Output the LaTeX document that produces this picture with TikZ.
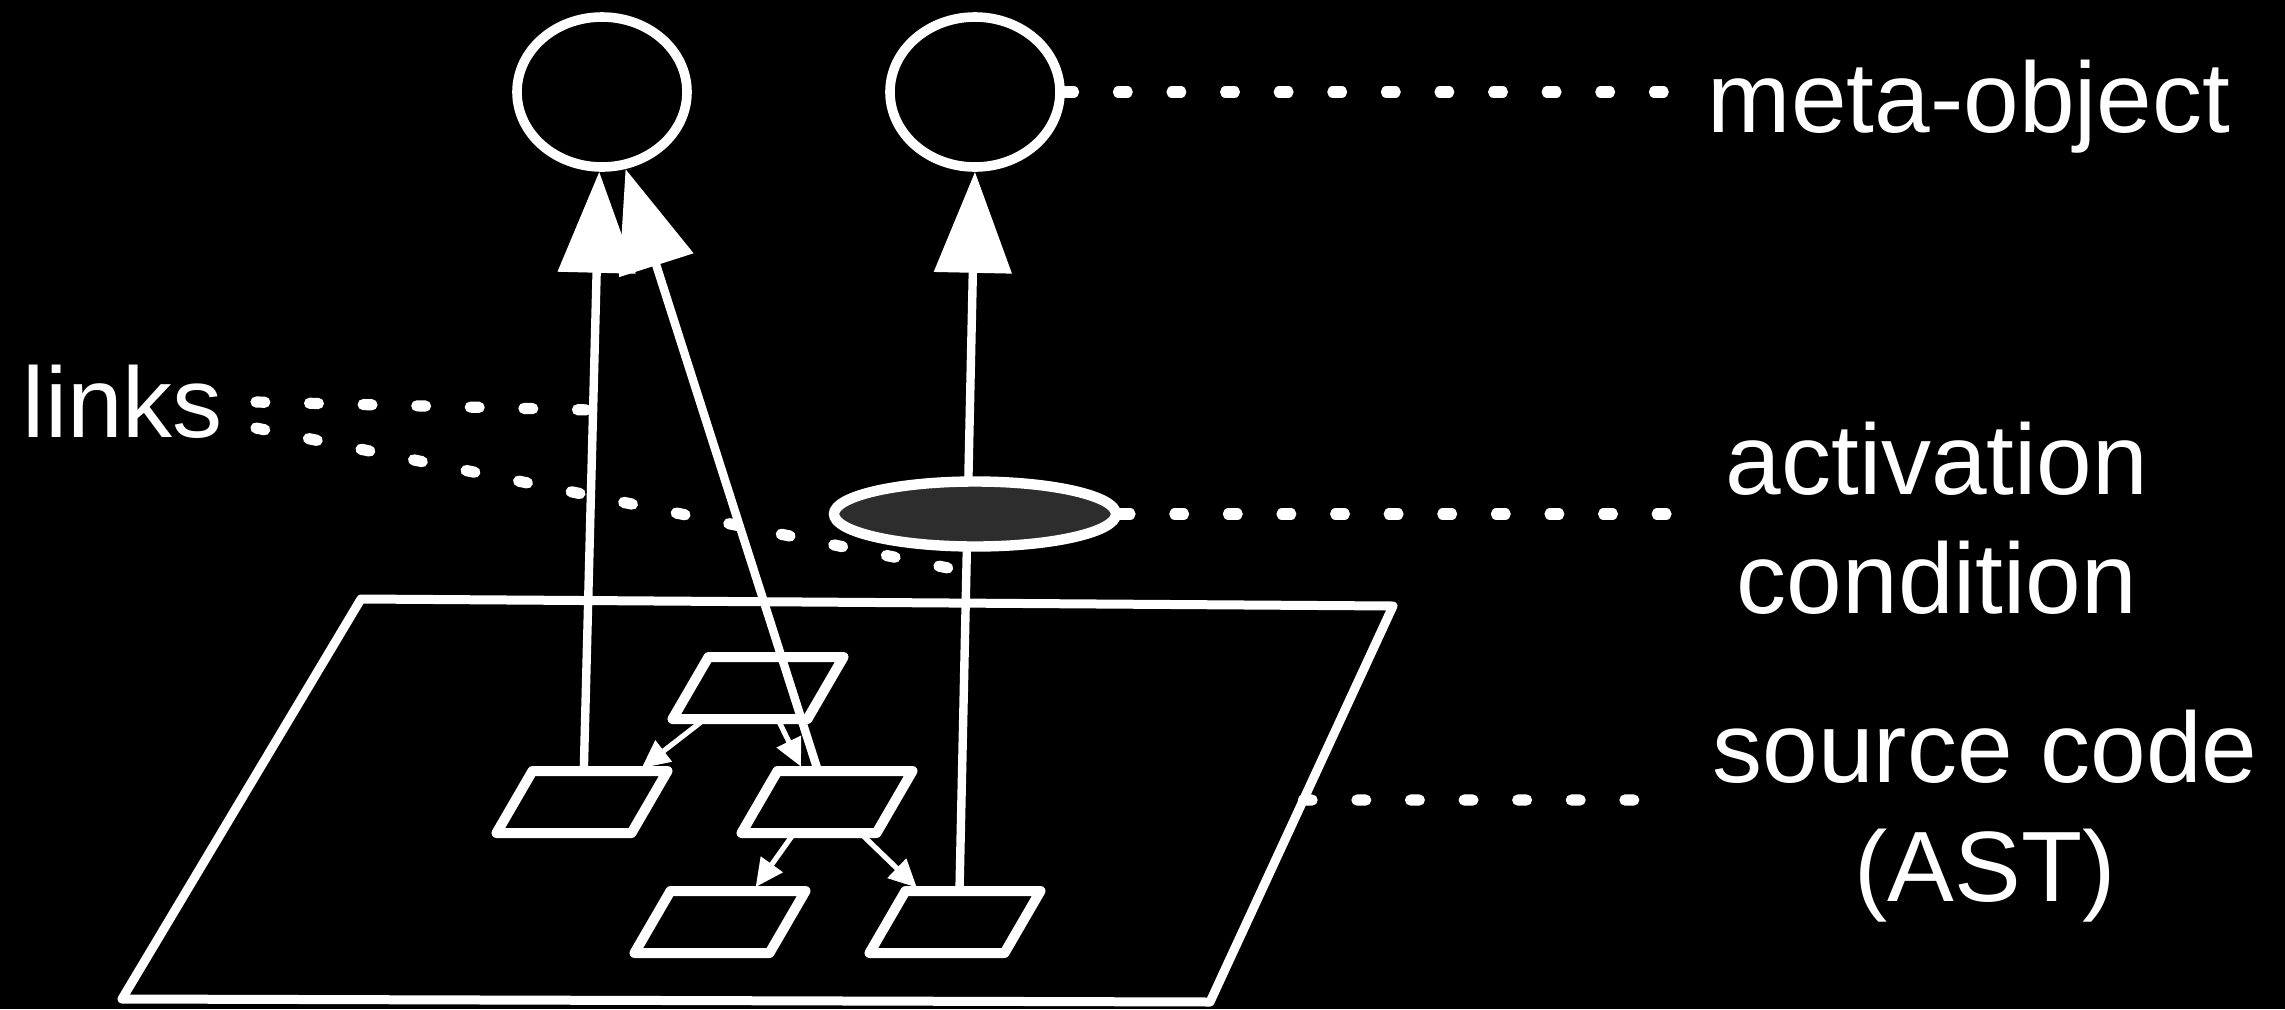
\documentclass[tikz,border=0pt]{standalone}
\usepackage{fontspec}
\setmainfont{Liberation Sans}
\usetikzlibrary{positioning,arrows.meta,shapes.geometric,calc}
\definecolor{condfill}{HTML}{2D2D2D}

\begin{document}
\begin{tikzpicture}[x=0.25pt,y=-0.25pt,
    metaobj/.style={ellipse,draw=white,line width=2.4pt,inner sep=0pt,
                    minimum width=42.5pt,minimum height=37.5pt},
    actcond/.style={ellipse,draw=white,fill=condfill,line width=2.6pt,inner sep=0pt,
                    minimum width=70.5pt,minimum height=16.25pt},
    astline/.style={white,line width=2.5pt,line join=round},
    astbox/.pic={
      \draw[astline] (-85.5,31) -- (-49.5,-31) -- (85.5,-31) -- (49.5,31) -- cycle;
      \coordinate (-bl) at (-85.5,31);
      \coordinate (-br) at (49.5,31);
      \coordinate (-tl) at (-49.5,-31);
      \coordinate (-tr) at (85.5,-31);
    },
    lnk/.style={white,line width=2.1pt,-{Triangle[length=25.25pt,width=19pt]}},
    sublnk/.style={white,line width=1.3pt,shorten >=1.2pt,-{Triangle[length=7pt,width=6.5pt]}},
    dotline/.style={white,line width=2.8pt,line cap=round,dash pattern=on 2.2pt off 11.2pt},
    txt/.style={text=white,inner sep=0pt,font=\fontsize{25}{30}\selectfont}]
  \fill[black] (0,0) rectangle (2285,1009);
  \useasboundingbox (0,0) rectangle (2285,1009);

  % source code plane
  \coordinate (p1) at (122,999);
  \coordinate (p2) at (361,599);
  \coordinate (p3) at (1393,606);
  \coordinate (p4) at (1210,1002);
  \draw[white,line width=2.25pt,line join=round] (p1) -- (p2) -- (p3) -- (p4) -- cycle;

  % AST nodes
  \pic (b0) at (758,688) {astbox};
  \pic (b1) at (582,802) {astbox};
  \pic (b2) at (827,802) {astbox};
  \pic (b3) at (720,922) {astbox};
  \pic (b4) at (955,922) {astbox};

  \draw[sublnk] ($(b0-bl)!0.24!(b0-br)$) -- ($(b1-tl)!0.78!(b1-tr)$);
  \draw[sublnk] ($(b0-bl)!0.78!(b0-br)$) -- ($(b2-tl)!0.19!(b2-tr)$);
  \draw[sublnk] ($(b2-bl)!0.39!(b2-br)$) -- ($(b3-tl)!0.61!(b3-tr)$);
  \draw[sublnk] ($(b2-bl)!0.88!(b2-br)$) -- ($(b4-tl)!0.11!(b4-tr)$);

  % meta-objects
  \node[metaobj] (mo1) at (602,92) {};
  \node[metaobj] (mo2) at (975,92) {};

  \draw[lnk] ($(b1-tl)!0.38!(b1-tr)$) -- (mo1.268);
  \draw[lnk] ($(b2-tl)!0.3!(b2-tr)$) -- (mo1.287);
  \draw[lnk] ($(b4-tl)!0.4!(b4-tr)$) -- (mo2.south);

  % activation condition
  \node[actcond] (cond) at (975,514) {};

  % labels
  \node[txt,anchor=base west] (lnktxt) at (22,437) {links};
  \node[txt,anchor=base west] (motxt) at (1707,132) {meta-object};
  \node[txt,anchor=base] (acttxt) at (1937,494) {activation};
  \node[txt,anchor=base] (condtxt) at (1937,613) {condition};
  \node[txt,anchor=base] (srctxt) at (1985,782) {source code};
  \node[txt,anchor=base] (asttxt) at (1985,901) {(AST)};

  \coordinate (moend) at (1669,92);
  \coordinate (condend) at (1669,514);
  \coordinate (srcbeg) at ($(p3)!0.49!(p4)$);
  \coordinate (srcend) at (1647,800);
  \coordinate (lk1) at (256,402);
  \coordinate (lk2) at (256,428);
  \coordinate (hit1) at (591,410);
  \coordinate (hit2) at (958,570);

  \draw[dotline] (mo2.east) -- (moend);
  \draw[dotline] (cond.east) -- (condend);
  \draw[dotline] (srcbeg) -- (srcend);
  \draw[dotline] (lk1) -- (hit1);
  \draw[dotline] (lk2) -- (hit2);
\end{tikzpicture}
\end{document}
